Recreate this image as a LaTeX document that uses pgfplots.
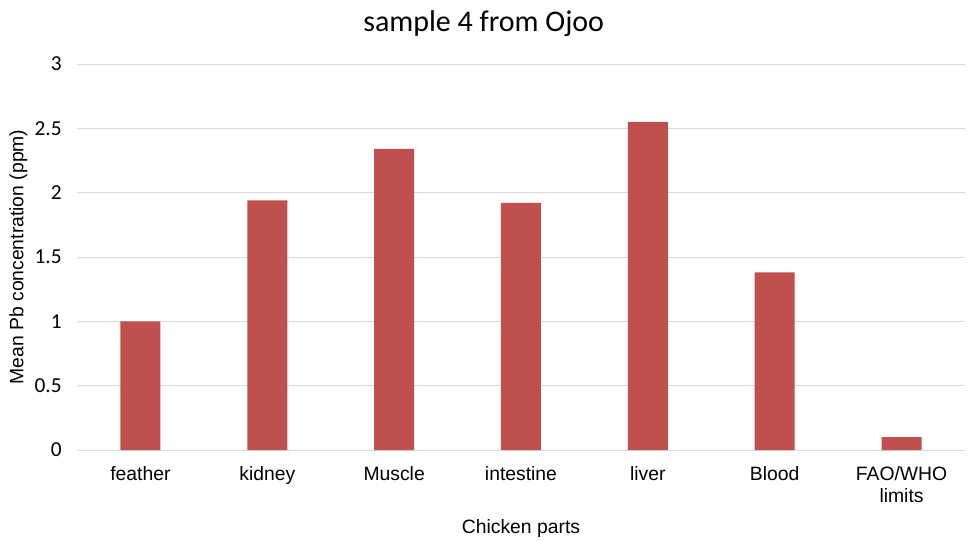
\documentclass[border=0pt]{standalone}
\usepackage{fontspec}
\setmainfont{Liberation Sans}
\newfontfamily\carlito{Carlito}
\usepackage{pgfplots}
\pgfplotsset{compat=1.18}
\definecolor{barred}{HTML}{C0504D}
\definecolor{gridgray}{HTML}{D9D9D9}
\begin{document}
\begin{tikzpicture}
\path[use as bounding box] (0,0) rectangle (726pt,405pt);
\begin{axis}[
  at={(57.75pt,67.5pt)}, anchor=south west,
  scale only axis, width=666pt, height=289.5pt,
  xmin=-0.5, xmax=6.5, ymin=0, ymax=3,
  ytick={0,0.5,...,3},
  yticklabels={0,0.5,1,1.5,2,2.5,3},
  xtick={0,...,6},
  xticklabels={feather,kidney,Muscle,intestine,liver,Blood,{FAO/WHO\\limits}},
  xticklabel style={align=center, font=\fontsize{14.5pt}{16pt}\selectfont, yshift=-9pt},
  yticklabel style={font=\carlito\fontsize{16pt}{18pt}\selectfont, xshift=-8pt},
  /pgf/number format/assume math mode=true,
  ymajorgrids, grid style={gridgray, line width=0.75pt},
  axis line style={draw=none},
  major tick style={draw=none},
  title={sample 4 from Ojoo},
  title style={at={(axis description cs:0.458,1)}, anchor=center, yshift=24pt, font=\carlito\fontsize{22.5pt}{26pt}\selectfont},
  xlabel={Chicken parts},
  xlabel style={at={(axis description cs:0.5,0)}, anchor=center, yshift=-58.5pt, font=\fontsize{14.5pt}{16pt}\selectfont},
  ylabel={Mean Pb concentration (ppm)},
  ylabel style={at={(axis description cs:-0.0661,0.5)}, anchor=center, font=\fontsize{14.5pt}{16pt}\selectfont},
]
\addplot[ybar, bar width=30pt, fill=barred, draw=none] coordinates {
  (0,1.00) (1,1.94) (2,2.34) (3,1.92) (4,2.55) (5,1.38) (6,0.10)
};
\end{axis}
\end{tikzpicture}
\end{document}
